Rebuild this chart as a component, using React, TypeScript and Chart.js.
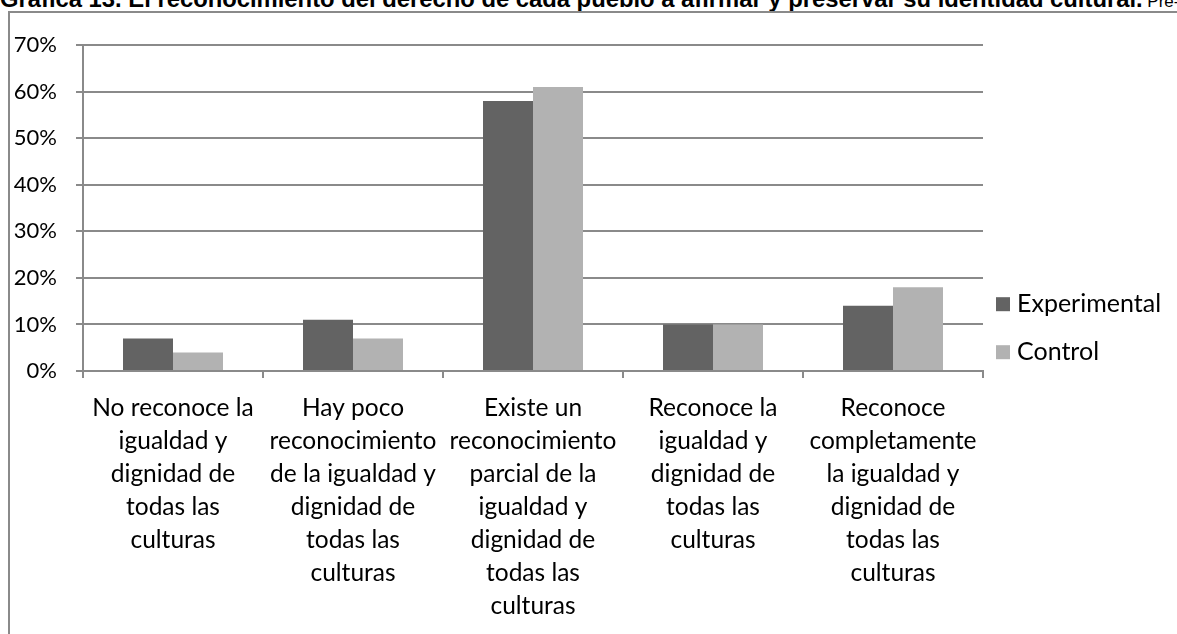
import React, { useEffect, useRef } from "react";
import { Chart, registerables } from "chart.js";

Chart.register(...registerables);

const titleBold = "Gráfica 13. El reconocimiento del derecho de cada pueblo a afirmar y preservar su identidad cultural.";
const titleTail = " Pre-test";

const categories: string[][] = [
  ["No reconoce la", "igualdad y", "dignidad de", "todas las", "culturas"],
  ["Hay poco", "reconocimiento", "de la igualdad y", "dignidad de", "todas las", "culturas"],
  ["Existe un", "reconocimiento", "parcial de la", "igualdad y", "dignidad de", "todas las", "culturas"],
  ["Reconoce la", "igualdad y", "dignidad de", "todas las", "culturas"],
  ["Reconoce", "completamente", "la igualdad y", "dignidad de", "todas las", "culturas"],
];

const seriesNames = ["Experimental", "Control"];
const experimental = [7, 11, 58, 10, 14];
const control = [4, 7, 61, 10, 18];
const seriesColors = ["#636363", "#b2b2b2"];

const yMax = 70;
const yStep = 10;

const FONT = "Lato, 'Open Sans', sans-serif";
const GRID = "#8a8a8a";

const legendPlugin = {
  id: "sideLegend",
  afterDraw(chart: any) {
    const { ctx, chartArea } = chart;
    ctx.save();
    ctx.font = `25px ${FONT}`;
    ctx.textBaseline = "middle";
    ctx.textAlign = "left";
    const x = chartArea.right + 13;
    chart.data.datasets.forEach((ds: any, i: number) => {
      const yc = chartArea.top + 259 + i * 48;
      ctx.fillStyle = ds.backgroundColor;
      ctx.fillRect(x, yc - 7, 14, 14);
      ctx.fillStyle = "#000";
      ctx.fillText(ds.label, x + 21, yc);
    });
    ctx.restore();
  },
};

export default function App() {
  const canvasRef = useRef<HTMLCanvasElement | null>(null);

  useEffect(() => {
    if (!canvasRef.current) return;
    const chart = new Chart(canvasRef.current, {
      type: "bar",
      data: {
        labels: categories,
        datasets: [
          { label: seriesNames[0], data: experimental, backgroundColor: seriesColors[0], borderWidth: 0 },
          { label: seriesNames[1], data: control, backgroundColor: seriesColors[1], borderWidth: 0 },
        ],
      },
      options: {
        responsive: false,
        animation: false,
        devicePixelRatio: 1,
        datasets: { bar: { categoryPercentage: 100 / 180, barPercentage: 1 } },
        layout: { padding: { top: 31, right: 194, left: 0, bottom: 0 } },
        plugins: {
          legend: { display: false },
          tooltip: { enabled: false },
          title: { display: false },
        },
        scales: {
          x: {
            grid: {
              offset: true,
              drawOnChartArea: false,
              drawTicks: true,
              tickLength: 7,
              color: GRID,
              lineWidth: 2,
            },
            border: { display: true, color: GRID, width: 2 },
            ticks: {
              autoSkip: false,
              maxRotation: 0,
              minRotation: 0,
              padding: 14,
              color: "#000",
              font: { family: FONT, size: 24.5, lineHeight: 33 / 24.5 },
            },
            afterFit(scale: any) {
              scale.height = 263;
            },
          },
          y: {
            min: 0,
            max: yMax,
            grid: { color: GRID, lineWidth: 2, drawTicks: true, tickLength: 7 },
            border: { display: true, color: GRID, width: 2 },
            ticks: {
              stepSize: yStep,
              padding: 19,
              color: "#000",
              font: { family: FONT, size: 22 },
              callback: (v: any) => `${v}%`,
            },
            afterFit(scale: any) {
              scale.width = 73;
            },
          },
        },
      },
      plugins: [legendPlugin],
    });
    return () => chart.destroy();
  }, []);

  return (
    <div style={{ position: "fixed", left: 0, top: 0, width: 1177, height: 634, overflow: "hidden", background: "#fff" }}>
      <div
        style={{
          position: "absolute",
          left: 0,
          top: -13,
          whiteSpace: "nowrap",
          fontFamily: "'Liberation Sans', Arial, sans-serif",
          color: "#000",
          lineHeight: "24px",
        }}
      >
        <span style={{ fontWeight: "bold", fontSize: 23.8 }}>{titleBold}</span>
        <span style={{ fontSize: 17 }}>{titleTail}</span>
      </div>
      <div
        style={{
          position: "absolute",
          left: 8,
          top: 11,
          width: 1177,
          height: 640,
          borderLeft: `2px solid ${GRID}`,
          borderTop: `2px solid ${GRID}`,
        }}
      />
      <div style={{ position: "absolute", left: 10, top: 13 }}>
        <canvas ref={canvasRef} width={1167} height={621} />
      </div>
    </div>
  );
}
